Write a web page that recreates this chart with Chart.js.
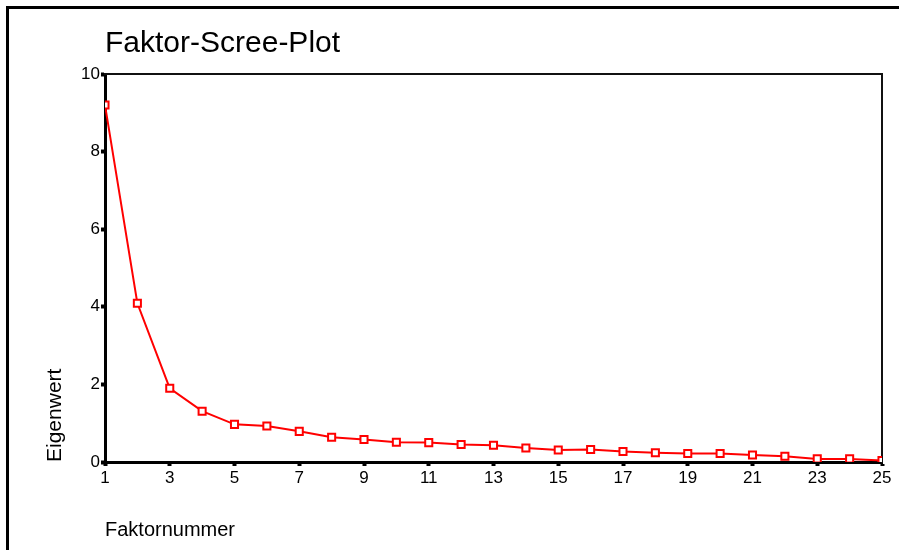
<!DOCTYPE html>
<html>
<head>
<meta charset="utf-8">
<title>Faktor-Scree-Plot</title>
<script src="https://cdn.jsdelivr.net/npm/chart.js@4/dist/chart.umd.min.js"></script>
<style>
    html, body { margin: 0; padding: 0; background: #fff; }
    #wrap { position: relative; width: 899px; height: 550px; }
    #frame {
        position: absolute; left: 6px; top: 6px; right: 0; bottom: 0;
        border-left: 3px solid #000; border-top: 3px solid #000;
        pointer-events: none;
    }
    canvas { position: absolute; left: 0; top: 0; }
</style>
</head>
<body>
<div id="wrap">
    <canvas id="scree" width="899" height="550"></canvas>
    <div id="frame"></div>
</div>
<script>
// Faktornummer und Eigenwerte
const factors = [1, 2, 3, 4, 5, 6, 7, 8, 9, 10, 11, 12, 13, 14, 15, 16, 17, 18, 19, 20, 21, 22, 23, 24, 25];
const eigenvalues = [9.20, 4.09, 1.90, 1.31, 0.97, 0.93, 0.79, 0.64, 0.58, 0.51, 0.50, 0.45, 0.43,
                     0.36, 0.31, 0.32, 0.27, 0.24, 0.22, 0.22, 0.18, 0.15, 0.08, 0.08, 0.04];
const yTicks = [0, 2, 4, 6, 8, 10];
const xTicks = [1, 3, 5, 7, 9, 11, 13, 15, 17, 19, 21, 23, 25];

const titleText = "Faktor-Scree-Plot";
const xTitle = "Faktornummer";
const yTitle = "Eigenwert";

const fontFamily = "'Liberation Sans', Arial, Helvetica, sans-serif";

// Punkte fuer die Linie
const points = factors.map((f, i) => ({ x: f, y: eigenvalues[i] }));

new Chart(document.getElementById("scree"), {
    type: "line",
    data: {
        datasets: [{
            data: points,
            borderColor: "#ff0000",
            borderWidth: 2,
            pointStyle: "rect",
            pointRadius: 5,
            pointBorderWidth: 2,
            pointBorderColor: "#ff0000",
            pointBackgroundColor: "#ffffff",
            tension: 0
        }]
    },
    options: {
        responsive: false,
        animation: false,
        layout: { padding: { left: 43, top: 0, right: 0, bottom: 8 } },
        plugins: {
            legend: { display: false },
            tooltip: { enabled: false },
            title: { display: false }
        },
        scales: {
            x: {
                type: "linear",
                position: "bottom",
                min: 1,
                max: 25,
                afterBuildTicks: s => { s.ticks = xTicks.map(v => ({ value: v })); },
                afterFit: s => { s.height = 80; },
                ticks: {
                    color: "#000",
                    padding: 2,
                    maxRotation: 0,
                    autoSkip: false,
                    font: { family: fontFamily, size: 17 }
                },
                grid: { drawOnChartArea: false, tickLength: 4, tickWidth: 4, tickColor: "#000" },
                border: { display: true, color: "#000", width: 3 },
                title: {
                    display: true,
                    text: xTitle,
                    align: "start",
                    color: "#000",
                    padding: 0,
                    font: { family: fontFamily, size: 20 }
                }
            },
            y: {
                type: "linear",
                position: "left",
                min: 0,
                max: 10,
                afterBuildTicks: s => { s.ticks = yTicks.map(v => ({ value: v })); },
                afterFit: s => { s.width = 62; },
                ticks: {
                    color: "#000",
                    padding: 1,
                    font: { family: fontFamily, size: 17 }
                },
                grid: { drawOnChartArea: false, tickLength: 4, tickWidth: 4, tickColor: "#000" },
                border: { display: true, color: "#000", width: 3 },
                title: {
                    display: true,
                    text: yTitle,
                    align: "start",
                    color: "#000",
                    padding: 0,
                    font: { family: fontFamily, size: 21 }
                }
            },
            // obere Rahmenlinie mit Diagrammtitel
            x2: {
                type: "linear",
                position: "top",
                min: 1,
                max: 25,
                afterFit: s => { s.height = 74; },
                ticks: { display: false },
                grid: { display: false },
                border: { display: true, color: "#111", width: 2 },
                title: {
                    display: true,
                    text: titleText,
                    align: "start",
                    color: "#000",
                    padding: { top: 26, bottom: 0 },
                    font: { family: fontFamily, size: 30 }
                }
            },
            // rechte Rahmenlinie
            y2: {
                type: "linear",
                position: "right",
                min: 0,
                max: 10,
                afterFit: s => { s.width = 17; },
                ticks: { display: false },
                grid: { display: false },
                border: { display: true, color: "#111", width: 2 }
            }
        }
    }
});
</script>
</body>
</html>
